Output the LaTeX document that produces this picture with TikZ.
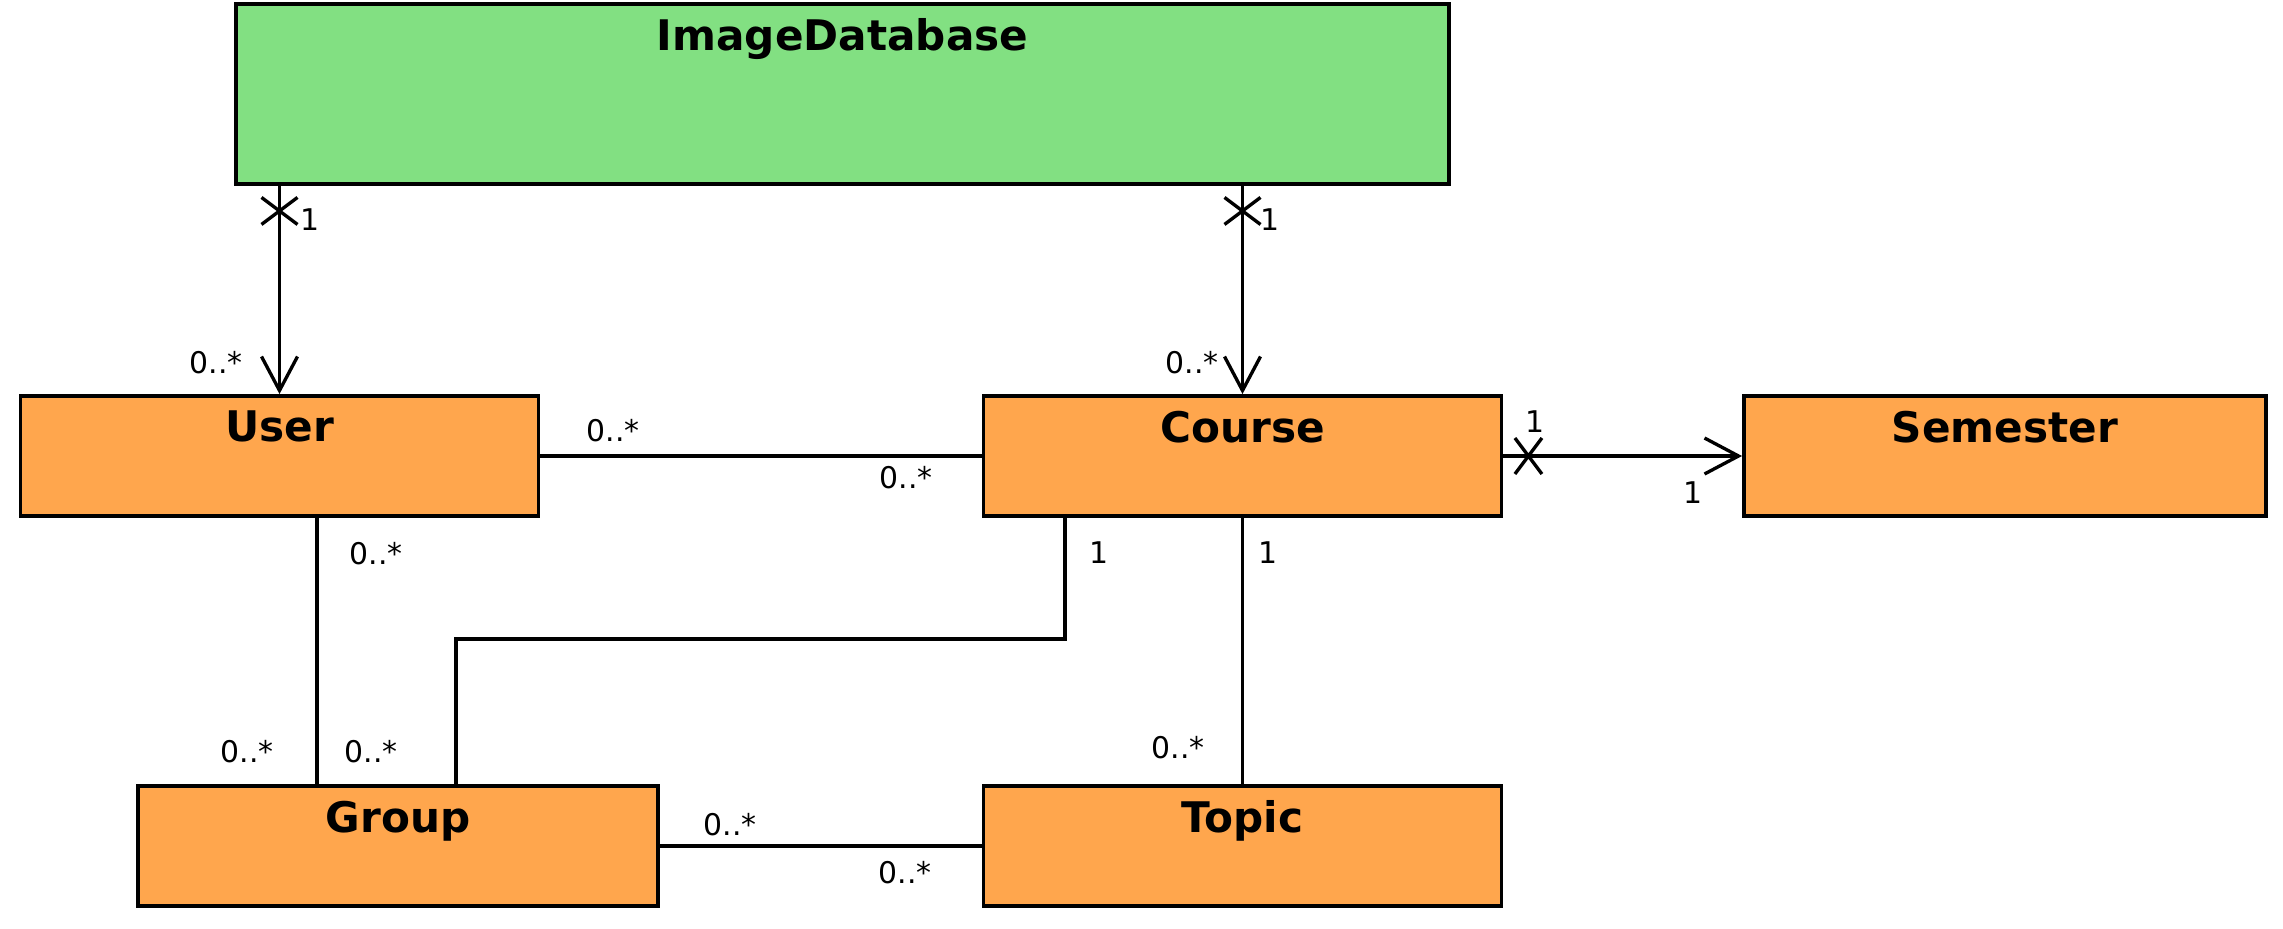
\documentclass[tikz,border=0pt]{standalone}
\usepackage{fontspec}
\setmainfont{DejaVu Sans}
\usetikzlibrary{arrows.meta}

\definecolor{dbgreen}{RGB}{130,224,130}
\definecolor{clsorange}{RGB}{255,166,77}

\tikzset{
  cls/.style={draw, line width=1.1pt, minimum width=51.8mm, minimum height=12mm, fill=clsorange, inner sep=0pt},
  title/.style={anchor=north, font=\bfseries\fontsize{12}{14}\selectfont, inner sep=0pt, yshift=-1.6mm},
  mult/.style={font=\fontsize{8.5}{10}\selectfont, inner sep=0pt},
  assoc/.style={line width=0.95pt},
  nav/.style={assoc, -{Straight Barb[length=3.4mm, width=3.6mm]}}
}

\begin{document}
\begin{tikzpicture}[x=0.1mm, y=-0.1mm]
  \useasboundingbox (0,0) rectangle (2283,928);

  % classes
  \node[cls, fill=dbgreen, minimum width=121.3mm, minimum height=18mm] (imgdb) at (842.5,94) {};
  \node[cls] (user) at (279.5,456) {};
  \node[cls] (course) at (1242.5,456) {};
  \node[cls, minimum width=52.2mm] (semester) at (2005,456) {};
  \node[cls, minimum width=52mm] (group) at (398,846) {};
  \node[cls] (topic) at (1242.5,846) {};

  \node[title] (imgdb-t) at (imgdb.north) {ImageDatabase};
  \node[title] (user-t) at (user.north) {User};
  \node[title] (course-t) at (course.north) {Course};
  \node[title] (semester-t) at (semester.north) {Semester};
  \node[title] (group-t) at (group.north) {Group};
  \node[title] (topic-t) at (topic.north) {Topic};

  % associations
  \draw[nav] (imgdb.south -| user.north) coordinate (iu) -- (user.north);
  \draw[nav] (imgdb.south -| course.north) coordinate (ic) -- (course.north);
  \draw[nav] (course.east) coordinate (cs) -- (semester.west);
  \draw[assoc] (user.east) -- (course.west);
  \draw[assoc] ([xshift=3.75mm]user.south) coordinate (ug) -- (ug |- group.north);
  \draw[assoc] ([xshift=-17.75mm]course.south) -- ++(0,121) -| ([xshift=5.8mm]group.north);
  \draw[assoc] (course.south) -- (topic.north);
  \draw[assoc] (group.east) -- (topic.west);

  % non-navigable ends
  \path (iu) ++(0,25) coordinate (x1);
  \path (ic) ++(0,25) coordinate (x2);
  \path (cs) ++(25,0) coordinate (x3);
  \draw[assoc] (x1) ++(-18,-13.5) -- ++(36,27) (x1) ++(-18,13.5) -- ++(36,-27);
  \draw[assoc] (x2) ++(-18,-13.5) -- ++(36,27) (x2) ++(-18,13.5) -- ++(36,-27);
  \draw[assoc] (x3) ++(-13.5,-18) -- ++(27,36) (x3) ++(-13.5,18) -- ++(27,-36);

  % multiplicities
  \node[mult] (m1) at (310,220) {1};
  \node[mult] (m2) at (216,363) {0..*};
  \node[mult] (m3) at (1270,220) {1};
  \node[mult] (m4) at (1192,363) {0..*};
  \node[mult] (m5) at (613,431) {0..*};
  \node[mult] (m6) at (906,478) {0..*};
  \node[mult] (m7) at (1535,422) {1};
  \node[mult] (m8) at (1693,493) {1};
  \node[mult] (m9) at (376,554) {0..*};
  \node[mult] (m10) at (247,752) {0..*};
  \node[mult] (m11) at (371,752) {0..*};
  \node[mult] (m12) at (1099,553) {1};
  \node[mult] (m13) at (1268,553) {1};
  \node[mult] (m14) at (1178,748) {0..*};
  \node[mult] (m15) at (730,825) {0..*};
  \node[mult] (m16) at (905,873) {0..*};
\end{tikzpicture}
\end{document}
